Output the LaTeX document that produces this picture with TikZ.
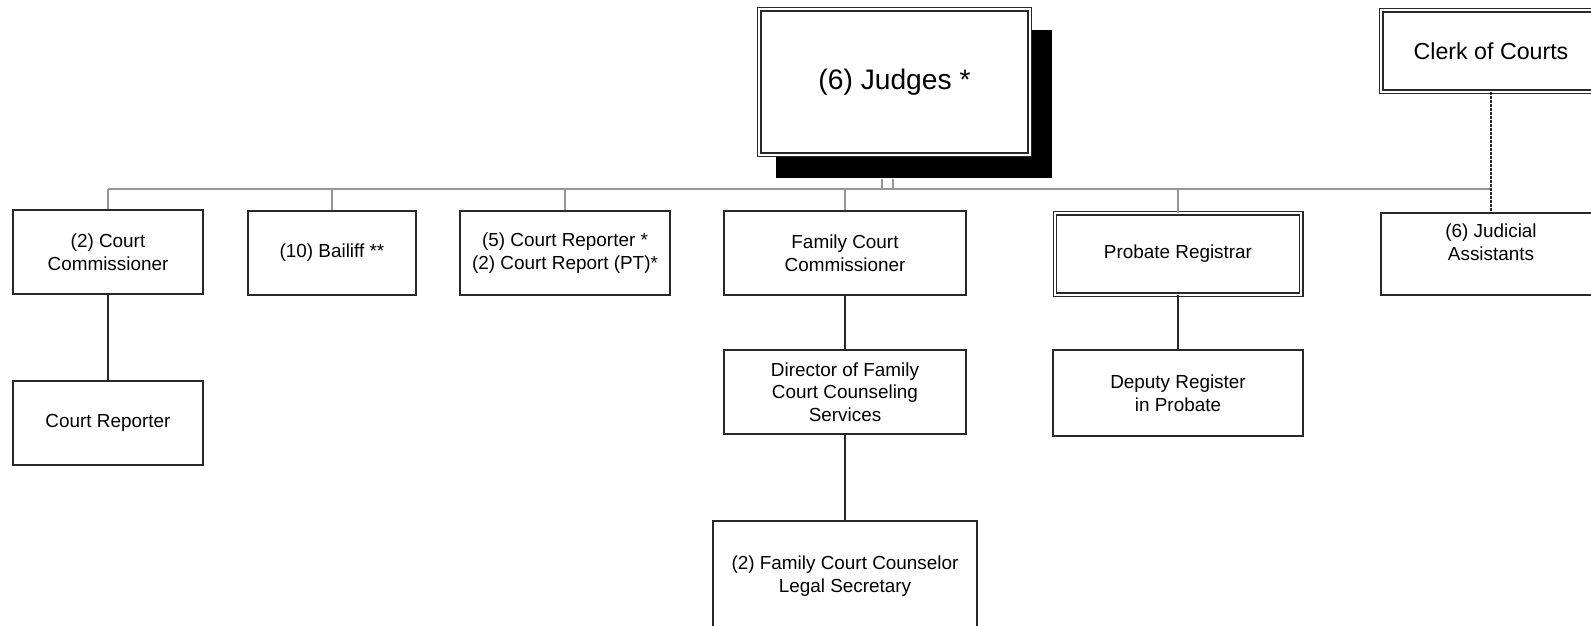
\documentclass[tikz,border=0pt]{standalone}
\usepackage{fontspec}
\setmainfont{Liberation Sans}
\usetikzlibrary{positioning,shadows}
\definecolor{boxgray}{RGB}{40,40,40}
\definecolor{busgray}{RGB}{150,150,150}
\newcommand{\orgfont}{\fontsize{18.9}{22.7}\selectfont}

\begin{document}
\begin{tikzpicture}[x=1pt,y=-1pt,every node/.style={font=\orgfont},
  orgbox/.style={draw=boxgray,fill=white,line width=1.8pt,minimum height=84.5pt,align=center,inner sep=2pt},
  twinbox/.style={orgbox,line width=1.4pt,double,double distance=1.8pt,minimum height=81.4pt},
  link/.style={boxgray,line width=1.5pt},
  buslink/.style={busgray,line width=1.5pt},
  dashlink/.style={link,dash pattern=on 2.5pt off 1.5pt}]
\useasboundingbox (0,0) rectangle (1591,626);
% top level
\node[twinbox,minimum width=270.4pt,minimum height=145.4pt,font=\fontsize{28.2}{34}\selectfont,
  drop shadow={shadow xshift=19.5pt,shadow yshift=-21.5pt,shadow scale=1.02,fill=black,opacity=1}]
  (judges) at (894.5,82) {(6) Judges *};
\node[twinbox,minimum width=219.4pt,font=\fontsize{23.2}{28}\selectfont] (clerk) at (1491,51) {Clerk of Courts};
% second row
\node[orgbox,minimum width=190.5pt] (cc) at (108,252) {(2) Court\\Commissioner};
\node[orgbox,minimum width=168.5pt] (bailiff) at (332,253) {(10) Bailiff **};
\node[orgbox,minimum width=210.5pt] (crep) at (565,253) {(5) Court Reporter *\\(2) Court Report (PT)*};
\node[orgbox,minimum width=242.5pt] (fcc) at (845,253) {Family Court\\Commissioner};
\node[twinbox,minimum width=246.4pt] (probate) at (1178,254) {Probate Registrar};
\node[orgbox,minimum width=220.5pt,minimum height=82.5pt,
  label={[name=jatext,align=center,yshift=12pt]center:(6) Judicial\\Assistants}] (ja) at (1491,254) {};
% lower rows
\node[orgbox,minimum width=190.5pt] (courtrep) at (108,423) {Court Reporter};
\node[orgbox,minimum width=242.5pt] (director) at (845,392) {Director of Family\\Court Counseling\\Services};
\node[orgbox,minimum width=249.5pt,minimum height=86.5pt] (deputy) at (1178,393) {Deputy Register\\in Probate};
\node[orgbox,minimum width=263.5pt,minimum height=110pt] (counselor) at (845,576) {(2) Family Court Counselor\\Legal Secretary};
% connectors
\coordinate (busL) at (108,189);
\coordinate (busR) at (1491,189);
\draw[buslink] (busL) -- (busR);
\foreach \n in {cc,bailiff,crep,fcc,probate}
  \draw[buslink] (\n.north) -- (\n.north |- busL);
\foreach \dx in {-12.5,-1.5}
  \draw[buslink] ([xshift=\dx pt,yshift=-23.5pt]judges.south) -- ([xshift=\dx pt]judges.south |- busL);
\draw[dashlink] (clerk.south) -- (ja.north);
\draw[link] (cc) -- (courtrep);
\draw[link] (fcc) -- (director);
\draw[link] (director) -- (counselor);
\draw[link] (probate) -- (deputy);
\end{tikzpicture}
\end{document}
